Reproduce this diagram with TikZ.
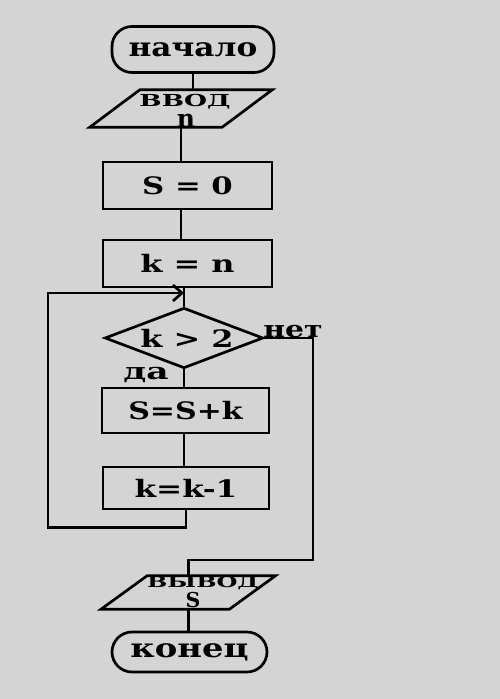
\documentclass[tikz,border=0pt]{standalone}
\usepackage{fontspec}
\usepackage{graphicx}
\usetikzlibrary{arrows.meta}
\newfontfamily\cf{DejaVu Serif}
\newcommand\stretchtxt[2]{\scalebox{#1}[1]{#2}}
\newcommand\fsz[1]{\fontsize{#1}{#1}\selectfont}
\definecolor{bg}{RGB}{212,212,212}
\begin{document}
\begin{tikzpicture}[x=1pt,y=-1pt,
  ln/.style={line width=2.7pt},
  box/.style={draw, line width=2.7pt, inner sep=0pt, font=\cf\bfseries\fsz{24}},
  term/.style={box, rounded corners=20pt},
  ghost/.style={inner sep=0pt, font=\cf\bfseries\fsz{24}},
  txt/.style={inner sep=0pt, anchor=base, font=\cf\bfseries}
]
\fill[bg] (0,0) rectangle (500,699);
\useasboundingbox (0,0) rectangle (500,699);

% start
\node[term, minimum width=162pt, minimum height=46pt] (start) at (193,49.5) {\fsz{26}\stretchtxt{1.2}{начало}};

% input
\node[ghost, minimum width=132pt, minimum height=37pt] (vvod) at (181,108.5) {};
\draw[ln] ([xshift=25pt]vvod.north west) -- ([xshift=25pt]vvod.north east) -- ([xshift=-25pt]vvod.south east) -- ([xshift=-25pt]vvod.south west) -- cycle;
\node[txt, font=\cf\bfseries\fsz{16.5}] (vvodt) at (185,106) {\stretchtxt{1.6}{ВВОД}};
\node[txt, font=\cf\bfseries\fsz{25}] (vvodn) at (186,127) {n};

% processes
\node[box, minimum width=169pt, minimum height=47pt] (s0) at (187.5,185.5) {\stretchtxt{1.28}{S = 0}};
\node[box, minimum width=169pt, minimum height=47pt] (kn) at (187.5,263.5) {\stretchtxt{1.33}{k = n}};

% decision
\node[ghost, minimum width=157pt, minimum height=59pt] (dia) at (184,338) {\hspace{6pt}\stretchtxt{1.33}{k > 2}};
\draw[ln] (dia.north) -- (dia.east) -- (dia.south) -- (dia.west) -- cycle;

\node[box, minimum width=167pt, minimum height=45pt] (ssk) at (185.5,410.5) {\stretchtxt{1.25}{S=S+k}};
\node[box, minimum width=166pt, minimum height=42pt] (kk1) at (186,488) {\stretchtxt{1.3}{k=k-1}};

% output
\node[ghost, minimum width=128pt, minimum height=33pt] (vyvod) at (188.25,592.5) {};
\draw[ln] ([xshift=23pt]vyvod.north west) -- ([xshift=23pt]vyvod.north east) -- ([xshift=-23pt]vyvod.south east) -- ([xshift=-23pt]vyvod.south west) -- cycle;
\node[txt, font=\cf\bfseries\fsz{15}] (vyvodt) at (203,587.5) {\stretchtxt{1.6}{ВЫВОД}};
\node[txt, font=\cf\bfseries\fsz{20.5}] (vyvods) at (193,607) {S};

% end
\node[term, minimum width=155pt, minimum height=40pt] (end) at (189.5,652) {\fsz{26}\stretchtxt{1.3}{конец}};

% labels
\node[txt, font=\cf\bfseries\fsz{23}] (no) at (293,337) {\stretchtxt{1.3}{нет}};
\node[txt, font=\cf\bfseries\fsz{23}] (yes) at (146,379) {\stretchtxt{1.5}{да}};

% connectors
\coordinate (join) at (184,293);
\coordinate (loopl) at (48,293);
\coordinate (nr) at (313,560);
\draw[ln] (start.south) -- (start.south |- vvod.north);
\draw[ln] (vvod.south) -- (vvod.south |- s0.north);
\draw[ln] (vvod.south |- s0.south) -- (vvod.south |- kn.north);
\draw[ln] (dia.north |- kn.south) -- (dia.north);
\draw[ln] (dia.south) -- (dia.south |- ssk.north);
\draw[ln] (dia.south |- ssk.south) -- (dia.south |- kk1.north);
\draw[ln, -{Straight Barb[length=9pt,width=16pt,line width=2.7pt]}] (kk1.south) -- ++(0,17) -| (loopl) -- (join);
\draw[ln] (dia.east) -| (nr) -- (nr -| vyvod.north) -- (vyvod.north);
\draw[ln] (vyvod.south) -- (vyvod.south |- end.north);
\end{tikzpicture}
\end{document}
